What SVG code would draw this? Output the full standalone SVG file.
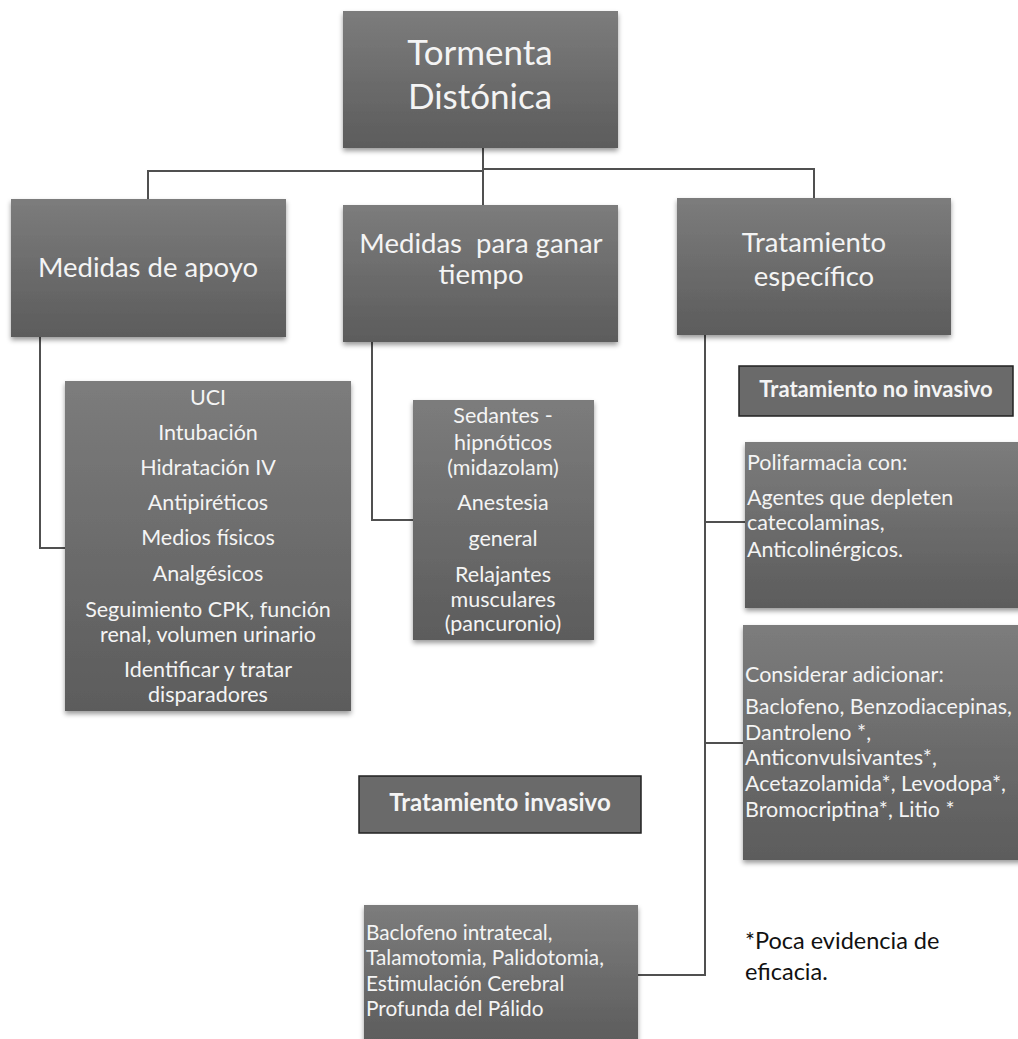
<svg xmlns="http://www.w3.org/2000/svg" width="1018" height="1039" viewBox="0 0 1018 1039">
<defs>
<linearGradient id="g" x1="0" y1="0" x2="0" y2="1">
<stop offset="0" stop-color="#7c7c7c"/>
<stop offset="1" stop-color="#5c5c5c"/>
</linearGradient>
<filter id="sh" x="-10%" y="-10%" width="120%" height="125%">
<feDropShadow dx="0" dy="3" stdDeviation="2.5" flood-color="#000" flood-opacity="0.4"/>
</filter>
</defs>
<style>
.box{fill:url(#g);filter:url(#sh)}
.lbl{fill:#6a6a6a;stroke:#222;stroke-width:1.5}
.t{font-family:Lato,"Open Sans","Liberation Sans",sans-serif;fill:#f4f4f4}
.c{text-anchor:middle}
.b{font-weight:bold}
.con{fill:none;stroke:#505050;stroke-width:2}
.note{font-family:Lato,"Open Sans","Liberation Sans",sans-serif;fill:#111;font-size:23.5px}
</style>
<rect width="1018" height="1039" fill="#fff"/>
<g id="connectors">
<path class="con" d="M483 148V205M148 200V171H483M814 198V169H483"/>
<path class="con" d="M40 337V548H65"/>
<path class="con" d="M372 342V520H413"/>
<path class="con" d="M705 335V975H638M705 522H745M705 743H743"/>
</g>
<g id="root">
<rect class="box" x="343" y="11" width="275" height="137"/>
<text class="t c" x="480" y="65" font-size="35">Tormenta</text>
<text class="t c" x="480" y="109" font-size="35">Distónica</text>
</g>
<g id="apoyo">
<rect class="box" x="11" y="199" width="275" height="138"/>
<text class="t c" x="148" y="277" font-size="27.5">Medidas de apoyo</text>
</g>
<g id="ganar">
<rect class="box" x="343" y="205" width="275" height="137"/>
<text class="t c" x="481" y="253" font-size="27.5" xml:space="preserve">Medidas  para ganar</text>
<text class="t c" x="481" y="284" font-size="27.5">tiempo</text>
</g>
<g id="especifico">
<rect class="box" x="677" y="198" width="274" height="137"/>
<text class="t c" x="814" y="252" font-size="27.5">Tratamiento</text>
<text class="t c" x="814" y="286" font-size="27.5">específico</text>
</g>
<g id="uci">
<rect class="box" x="65" y="381" width="286" height="330"/>
<g class="t c" font-size="21.5">
<text x="208" y="405">UCI</text>
<text x="208" y="440">Intubación</text>
<text x="208" y="475">Hidratación IV</text>
<text x="208" y="510">Antipiréticos</text>
<text x="208" y="545">Medios físicos</text>
<text x="208" y="581">Analgésicos</text>
<text x="208" y="617">Seguimiento CPK, función</text>
<text x="208" y="642">renal, volumen urinario</text>
<text x="208" y="677">Identificar y tratar</text>
<text x="208" y="702">disparadores</text>
</g>
</g>
<g id="sedantes">
<rect class="box" x="413" y="400" width="181" height="240"/>
<g class="t c" font-size="21.5">
<text x="503" y="423">Sedantes -</text>
<text x="503" y="450">hipnóticos</text>
<text x="503" y="475">(midazolam)</text>
<text x="503" y="510">Anestesia</text>
<text x="503" y="546">general</text>
<text x="503" y="582">Relajantes</text>
<text x="503" y="607">musculares</text>
<text x="503" y="631">(pancuronio)</text>
</g>
</g>
<g id="no-invasivo">
<rect class="lbl" x="739" y="366" width="274" height="50"/>
<text class="t c b" x="876" y="397" font-size="22">Tratamiento no invasivo</text>
</g>
<g id="polifarmacia">
<rect class="box" x="745" y="442" width="280" height="166"/>
<g class="t" font-size="21.5">
<text x="747" y="470">Polifarmacia con:</text>
<text x="747" y="505">Agentes que depleten</text>
<text x="747" y="530">catecolaminas,</text>
<text x="747" y="557">Anticolinérgicos.</text>
</g>
</g>
<g id="considerar">
<rect class="box" x="743" y="625" width="282" height="235"/>
<g class="t" font-size="21.5">
<text x="745" y="682">Considerar adicionar:</text>
<text x="745" y="714">Baclofeno, Benzodiacepinas,</text>
<text x="745" y="740">Dantroleno *,</text>
<text x="745" y="765">Anticonvulsivantes*,</text>
<text x="745" y="791">Acetazolamida*, Levodopa*,</text>
<text x="745" y="817">Bromocriptina*, Litio *</text>
</g>
</g>
<g id="invasivo">
<rect class="lbl" x="359" y="776" width="282" height="57"/>
<text class="t c b" x="500" y="811" font-size="24">Tratamiento invasivo</text>
</g>
<g id="baclofeno">
<rect class="box" x="364" y="905" width="274" height="140"/>
<g class="t" font-size="20.8">
<text x="366" y="940">Baclofeno intratecal,</text>
<text x="366" y="965.3">Talamotomia, Palidotomia,</text>
<text x="366" y="990.6">Estimulación Cerebral</text>
<text x="366" y="1015.9">Profunda del Pálido</text>
</g>
</g>
<g id="nota">
<text class="note" x="745" y="949">*Poca evidencia de</text>
<text class="note" x="745" y="980">eficacia.</text>
</g>
</svg>
